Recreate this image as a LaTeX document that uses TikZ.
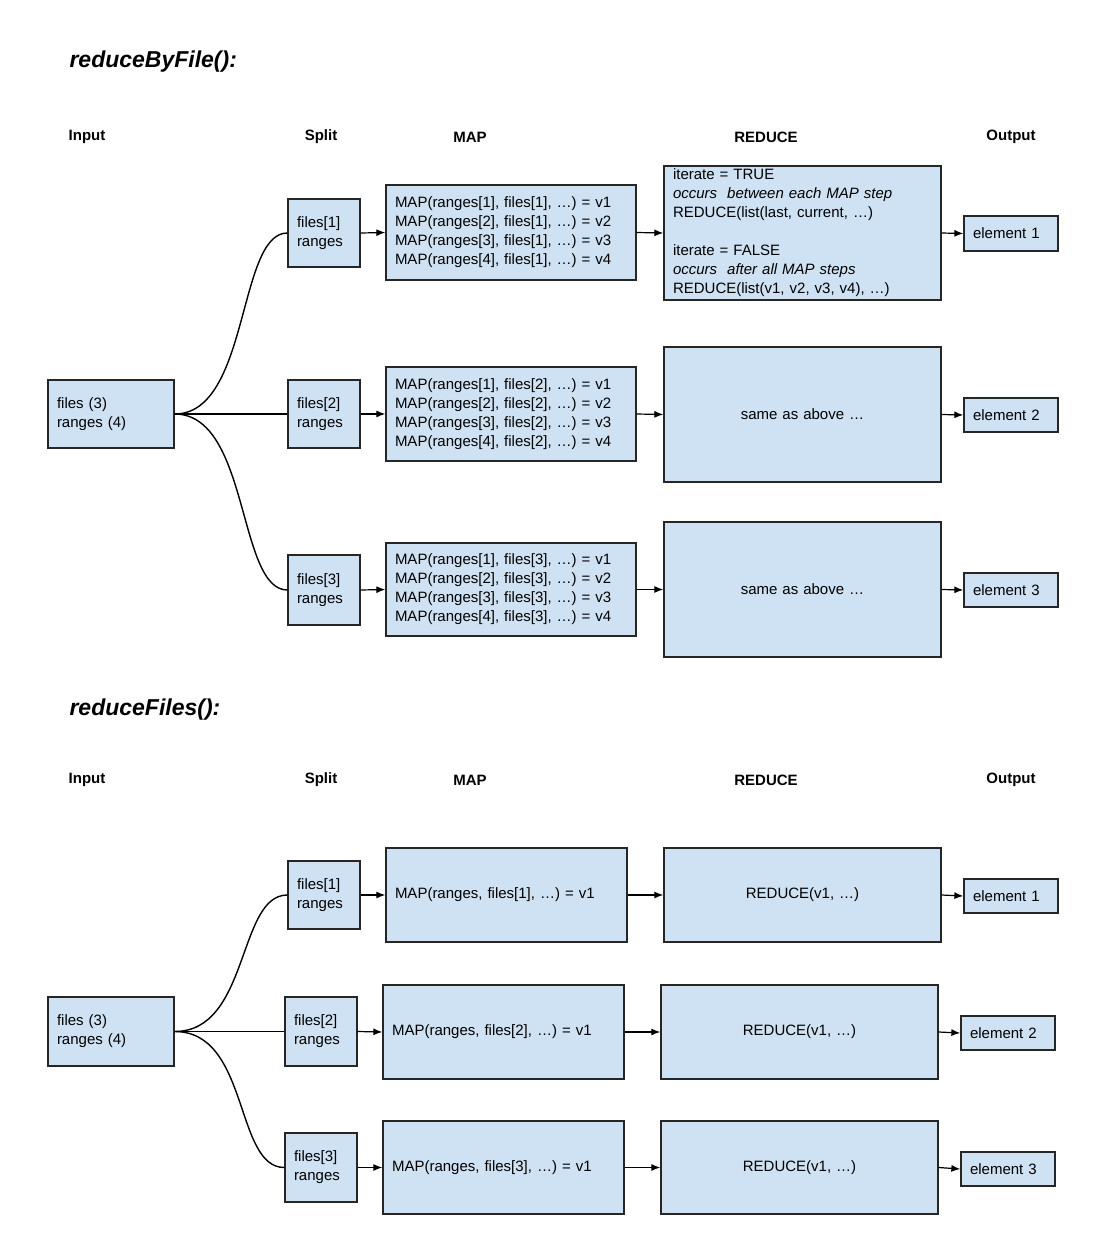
\documentclass[tikz,border=0pt]{standalone}
\usepackage{fontspec}
\setmainfont{Liberation Sans}
\usetikzlibrary{arrows.meta}
\definecolor{bfill}{HTML}{CFE2F3}
\tikzset{box/.style={draw=black!85,line width=1.3pt,fill=bfill,rectangle,inner xsep=9pt,inner ysep=0pt,font=\fontsize{15}{19}\selectfont},
 arr/.style={-{Latex[length=9pt,width=7pt]},line width=1.2pt},
 link/.style={line width=1.4pt},
 hdr/.style={font=\fontsize{15}{18}\selectfont\bfseries},
 ttl/.style={font=\fontsize{23}{26}\selectfont\bfseries\itshape,anchor=west}}
\newcommand\bx[7]{\pgfmathsetmacro\tw{#4-#2-18}\node[box,#6,minimum width={#4-#2},minimum height={#5-#3},text width=\tw pt] (#1) at ({(#2+#4)/2},{(#3+#5)/2}) {#7};}
\begin{document}
\begin{tikzpicture}[x=1pt,y=-1pt]
\useasboundingbox (0,0) rectangle (1105,1242);
% ---------- top
\node[ttl] (t1) at (66,62) {reduceByFile():};
\foreach \n/\x/\y/\t in {hi/87/137/Input,hs/321/137/Split,hm/470/137/MAP,hr/766/137/REDUCE,ho/1011/137/Output,
 bi/87/780/Input,bs/321/780/Split,bm/470/780/MAP,br/766/780/REDUCE,bo/1011/780/Output}
 \node[hdr] (\n) at (\x,\y) {\t};
\bx{ia}{48}{380}{174}{448}{align=left}{files (3)\\ranges (4)}
\bx{sa1}{288}{199}{360}{267}{align=left}{files[1]\\ranges}
\bx{sa2}{288}{380}{360}{448}{align=left}{files[2]\\ranges}
\bx{sa3}{288}{555}{360}{625}{align=left}{files[3]\\ranges}
\bx{ma1}{386}{185}{636}{280}{align=left}{MAP(ranges[1], files[1], \dots) = v1\\MAP(ranges[2], files[1], \dots) = v2\\MAP(ranges[3], files[1], \dots) = v3\\MAP(ranges[4], files[1], \dots) = v4}
\bx{ma2}{386}{367}{636}{461}{align=left}{MAP(ranges[1], files[2], \dots) = v1\\MAP(ranges[2], files[2], \dots) = v2\\MAP(ranges[3], files[2], \dots) = v3\\MAP(ranges[4], files[2], \dots) = v4}
\bx{ma3}{386}{543}{636}{636}{align=left}{MAP(ranges[1], files[3], \dots) = v1\\MAP(ranges[2], files[3], \dots) = v2\\MAP(ranges[3], files[3], \dots) = v3\\MAP(ranges[4], files[3], \dots) = v4}
\bx{ra1}{664}{166}{941}{300}{align=left}{iterate = TRUE\\\textit{occurs\ \ between each MAP step}\\REDUCE(list(last, current, \dots)\\[19pt]iterate = FALSE\\\textit{occurs\ \ after all MAP steps}\\REDUCE(list(v1, v2, v3, v4), \dots)}
\bx{ra2}{664}{347}{941}{482}{align=center}{same as above \dots}
\bx{ra3}{664}{522}{941}{657}{align=center}{same as above \dots}
\bx{oa1}{964}{216}{1058}{251}{align=left}{element 1}
\bx{oa2}{964}{398}{1058}{432}{align=left}{element 2}
\bx{oa3}{964}{573}{1058}{607}{align=left}{element 3}
% ---------- bottom
\node[ttl] (t2) at (66,710) {reduceFiles():};
\bx{ib}{48}{997}{174}{1066}{align=left}{files (3)\\ranges (4)}
\bx{sb1}{288}{861}{360}{929}{align=left}{files[1]\\ranges}
\bx{sb2}{285}{997}{357}{1066}{align=left}{files[2]\\ranges}
\bx{sb3}{285}{1133}{357}{1202}{align=left}{files[3]\\ranges}
\bx{mb1}{386}{848}{627}{942}{align=left}{MAP(ranges, files[1], \dots) = v1}
\bx{mb2}{383}{985}{624}{1079}{align=left}{MAP(ranges, files[2], \dots) = v1}
\bx{mb3}{383}{1121}{624}{1214}{align=left}{MAP(ranges, files[3], \dots) = v1}
\bx{rb1}{664}{848}{941}{942}{align=center}{REDUCE(v1, \dots)}
\bx{rb2}{661}{985}{938}{1079}{align=center}{REDUCE(v1, \dots)}
\bx{rb3}{661}{1121}{938}{1214}{align=center}{REDUCE(v1, \dots)}
\bx{ob1}{964}{879}{1058}{913}{align=left}{element 1}
\bx{ob2}{961}{1016}{1055}{1050}{align=left}{element 2}
\bx{ob3}{961}{1152}{1055}{1186}{align=left}{element 3}
% connectors
\foreach \p in {a,b}{
 \draw[link] (i\p.east) .. controls +(75,0) and +(-50,0) .. (s\p1.west);
 \draw[link] (i\p.east) -- (s\p2.west);
 \draw[link] (i\p.east) .. controls +(75,0) and +(-50,0) .. (s\p3.west);
 \foreach \k in {1,2,3}{
  \draw[arr] (s\p\k.east) -- (m\p\k.west);
  \draw[arr] (m\p\k.east) -- (r\p\k.west);
  \draw[arr] (r\p\k.east) -- (o\p\k.west);
 }}
\end{tikzpicture}
\end{document}
